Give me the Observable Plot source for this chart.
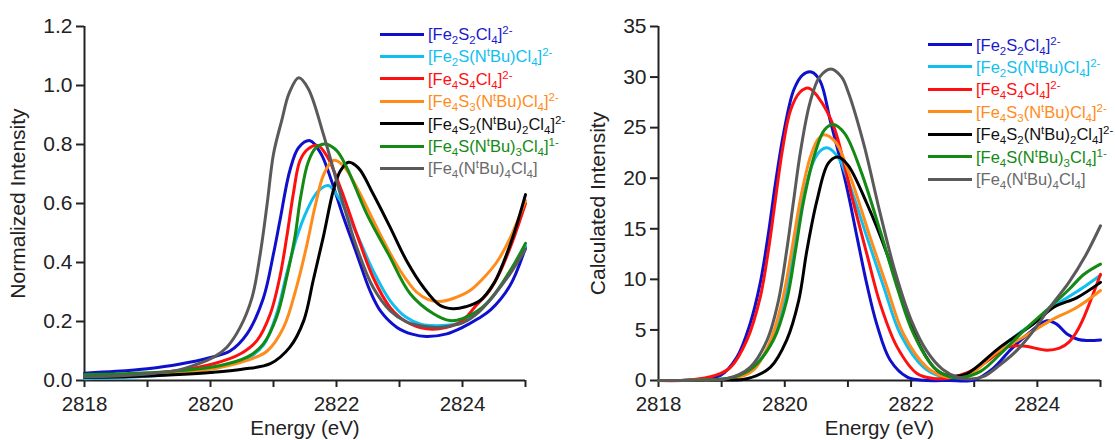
<!DOCTYPE html>
<html><head><meta charset="utf-8">
<script src="https://cdn.jsdelivr.net/npm/d3@7"></script>
<script src="https://cdn.jsdelivr.net/npm/@observablehq/plot@0.6"></script>
<style>
body{margin:0;background:#fff;font-family:"Liberation Sans",Arial,sans-serif;}
#wrap{position:relative;width:1115px;height:440px;display:flex;overflow:hidden;}
#wrap svg{display:block;flex:none;}
.row{position:absolute;height:0;white-space:nowrap;font-size:16.5px;line-height:1;}
.row .ln{position:absolute;left:0;top:-1.5px;height:3px;}
.row .tx{position:absolute;top:-8px;}
.row sub,.row sup{font-size:11.5px;line-height:0;}
</style></head>
<body><div id="wrap"></div>
<script>
// ---------- data ----------
const energyTicks = [2818, 2819, 2820, 2821, 2822, 2823, 2824, 2825];
const energyLabels = [2818, 2820, 2822, 2824];
const normTicks = [0, 0.2, 0.4, 0.6, 0.8, 1.0, 1.2];
const calcTicks = [0, 5, 10, 15, 20, 25, 30, 35];

const seriesNames = [
  "[Fe<sub>2</sub>S<sub>2</sub>Cl<sub>4</sub>]<sup>2-</sup>",
  "[Fe<sub>2</sub>S(N<sup>t</sup>Bu)Cl<sub>4</sub>]<sup>2-</sup>",
  "[Fe<sub>4</sub>S<sub>4</sub>Cl<sub>4</sub>]<sup>2-</sup>",
  "[Fe<sub>4</sub>S<sub>3</sub>(N<sup>t</sup>Bu)Cl<sub>4</sub>]<sup>2-</sup>",
  "[Fe<sub>4</sub>S<sub>2</sub>(N<sup>t</sup>Bu)<sub>2</sub>Cl<sub>4</sub>]<sup>2-</sup>",
  "[Fe<sub>4</sub>S(N<sup>t</sup>Bu)<sub>3</sub>Cl<sub>4</sub>]<sup>1-</sup>",
  "[Fe<sub>4</sub>(N<sup>t</sup>Bu)<sub>4</sub>Cl<sub>4</sub>]"
];
const seriesColors = ["#1010cc", "#10bff0", "#ff1010", "#ff8c1a", "#000000", "#138a13", "#5a5a5a"];
const textColors   = ["#1a1acc", "#10bff0", "#ff1010", "#ff8c1a", "#111111", "#138a13", "#6a6a6a"];

// Normalized (experimental) intensity: [energy eV, intensity]
const normFe2S2 = [[2818,0.025],[2818.5,0.031],[2819,0.04],[2819.5,0.055],[2820,0.078],[2820.31,0.10],[2820.58,0.158],[2820.84,0.28],[2821.0,0.43],[2821.1,0.54],[2821.26,0.712],[2821.4,0.79],[2821.58,0.813],[2821.75,0.77],[2821.9,0.69],[2822.11,0.554],[2822.32,0.43],[2822.53,0.305],[2822.7,0.235],[2822.96,0.18],[2823.2,0.157],[2823.43,0.149],[2823.75,0.158],[2824.0,0.18],[2824.25,0.21],[2824.45,0.24],[2824.75,0.32],[2825,0.45]];
const normFe2SN = [[2818,0.006],[2818.5,0.009],[2819,0.014],[2819.5,0.024],[2820.16,0.046],[2820.58,0.074],[2820.84,0.12],[2821.05,0.226],[2821.21,0.362],[2821.37,0.486],[2821.53,0.576],[2821.7,0.64],[2821.87,0.661],[2822.06,0.61],[2822.32,0.497],[2822.58,0.373],[2822.85,0.271],[2823.1,0.215],[2823.35,0.19],[2823.59,0.186],[2823.85,0.19],[2824.0,0.2],[2824.25,0.235],[2824.5,0.29],[2824.75,0.365],[2825,0.455]];
const normFe4S4 = [[2818,0.015],[2818.5,0.019],[2819,0.024],[2819.5,0.034],[2820.05,0.057],[2820.47,0.09],[2820.74,0.136],[2820.95,0.226],[2821.1,0.35],[2821.21,0.486],[2821.32,0.64],[2821.42,0.745],[2821.55,0.785],[2821.7,0.797],[2821.85,0.76],[2822.06,0.655],[2822.32,0.497],[2822.58,0.35],[2822.85,0.248],[2823.1,0.2],[2823.43,0.175],[2823.75,0.18],[2824.0,0.203],[2824.2,0.25],[2824.43,0.305],[2824.6,0.37],[2824.8,0.475],[2825,0.60]];
const normFe4S3N = [[2818,0.012],[2818.5,0.015],[2819,0.019],[2819.5,0.027],[2820.05,0.04],[2820.58,0.068],[2820.9,0.1],[2821.16,0.18],[2821.37,0.32],[2821.53,0.46],[2821.66,0.59],[2821.8,0.70],[2821.95,0.746],[2822.1,0.73],[2822.32,0.655],[2822.69,0.497],[2823.01,0.373],[2823.27,0.3],[2823.45,0.275],[2823.64,0.268],[2823.85,0.278],[2824.12,0.305],[2824.3,0.34],[2824.54,0.4],[2824.75,0.48],[2825,0.61]];
const normFe4S2N2 = [[2818,0.01],[2818.5,0.012],[2819,0.015],[2819.5,0.02],[2820,0.027],[2820.5,0.038],[2820.95,0.057],[2821.26,0.113],[2821.48,0.203],[2821.63,0.339],[2821.79,0.486],[2821.95,0.644],[2822.06,0.71],[2822.19,0.74],[2822.35,0.72],[2822.58,0.633],[2822.85,0.52],[2823.11,0.407],[2823.38,0.316],[2823.64,0.255],[2823.85,0.243],[2824.05,0.25],[2824.28,0.271],[2824.5,0.33],[2824.64,0.395],[2824.82,0.5],[2825,0.63]];
const normFe4SN3 = [[2818,0.02],[2818.5,0.022],[2819,0.026],[2819.5,0.033],[2820.16,0.051],[2820.58,0.079],[2820.84,0.124],[2821.05,0.215],[2821.21,0.35],[2821.34,0.486],[2821.43,0.62],[2821.55,0.74],[2821.68,0.79],[2821.82,0.802],[2822.0,0.78],[2822.16,0.723],[2822.48,0.565],[2822.82,0.43],[2823.17,0.294],[2823.54,0.226],[2823.8,0.203],[2824.0,0.21],[2824.38,0.26],[2824.75,0.37],[2825,0.465]];
const normFe4N4 = [[2818,0.012],[2818.5,0.015],[2819,0.022],[2819.5,0.036],[2819.73,0.051],[2820.05,0.079],[2820.26,0.113],[2820.47,0.18],[2820.66,0.282],[2820.79,0.43],[2820.9,0.6],[2821.0,0.768],[2821.13,0.881],[2821.25,0.975],[2821.4,1.026],[2821.55,0.99],[2821.79,0.836],[2822.06,0.633],[2822.32,0.452],[2822.58,0.316],[2822.85,0.237],[2823.1,0.2],[2823.35,0.185],[2823.59,0.18],[2823.75,0.183],[2824,0.195],[2824.25,0.23],[2824.5,0.29],[2824.75,0.36],[2825,0.445]];

// Calculated intensity: [energy eV, intensity]
const calcFe2S2 = [[2818,0],[2818.5,0.05],[2818.98,0.5],[2819.24,2.3],[2819.45,5.6],[2819.61,9.6],[2819.74,14.5],[2819.85,19.4],[2819.98,24.4],[2820.14,28.7],[2820.28,30.2],[2820.42,30.5],[2820.56,29.6],[2820.72,25.7],[2820.86,22.3],[2821.0,18.6],[2821.15,14.0],[2821.3,9.5],[2821.46,5.5],[2821.67,2.0],[2821.94,0.33],[2822.2,0.02],[2822.6,0],[2823.0,0.05],[2823.3,1.2],[2823.57,3.0],[2823.85,4.6],[2824.15,5.9],[2824.3,5.6],[2824.47,4.6],[2824.65,4.05],[2824.8,3.95],[2825,4.0]];
const calcFe2SN = [[2818,0],[2818.5,0.02],[2819.2,0.3],[2819.5,1.3],[2819.8,4.0],[2820.0,7.9],[2820.14,12.85],[2820.27,17.5],[2820.45,21.6],[2820.58,22.8],[2820.68,23.0],[2820.85,22.0],[2821.04,19.1],[2821.3,14.2],[2821.57,9.2],[2821.83,4.6],[2822.2,1.3],[2822.45,0.45],[2822.65,0.3],[2822.9,0.7],[2823.2,2.0],[2823.57,4.0],[2824.0,6.0],[2824.25,7.3],[2824.5,8.3],[2824.75,9.3],[2825,10.4]];
const calcFe4S4 = [[2818,0],[2818.5,0.05],[2818.9,0.5],[2819.14,1.3],[2819.4,4.0],[2819.61,8.2],[2819.74,12.85],[2819.85,17.8],[2819.96,22.7],[2820.09,26.7],[2820.24,28.5],[2820.38,28.9],[2820.53,28.0],[2820.77,25.2],[2821.09,17.5],[2821.3,12.5],[2821.51,7.6],[2821.78,3.3],[2822.1,0.66],[2822.35,0.2],[2822.6,0.25],[2822.9,0.8],[2823.15,1.65],[2823.52,3.3],[2823.78,3.4],[2824.15,3.0],[2824.35,3.2],[2824.5,3.8],[2824.62,4.8],[2824.74,6.3],[2825,10.5]];
const calcFe4S3N = [[2818,0],[2818.5,0.02],[2819.2,0.25],[2819.5,1.0],[2819.75,3.6],[2819.95,7.6],[2820.1,12.5],[2820.25,18.0],[2820.4,22.0],[2820.52,23.8],[2820.62,24.3],[2820.8,23.6],[2821.04,20.1],[2821.35,14.2],[2821.62,9.2],[2821.88,4.6],[2822.25,1.3],[2822.5,0.45],[2822.7,0.3],[2823.0,0.9],[2823.31,2.6],[2823.78,4.3],[2824.2,5.9],[2824.63,7.25],[2825,8.9]];
const calcFe4S2N2 = [[2818,0],[2818.5,0],[2819.0,0.05],[2819.4,0.17],[2819.77,1.3],[2820.03,4.0],[2820.22,7.9],[2820.35,12.85],[2820.51,17.8],[2820.69,21.5],[2820.84,22.1],[2821.0,21.3],[2821.3,17.5],[2821.62,12.5],[2821.88,7.6],[2822.15,3.3],[2822.41,1.0],[2822.62,0.45],[2822.88,0.66],[2823.41,3.3],[2823.94,5.6],[2824.26,7.25],[2824.63,8.2],[2825,9.7]];
const calcFe4SN3 = [[2818,0],[2818.5,0.03],[2819.19,0.33],[2819.5,1.3],[2819.82,4.0],[2820.03,7.9],[2820.17,12.85],[2820.3,17.8],[2820.48,22.5],[2820.63,24.8],[2820.77,25.3],[2820.95,24.4],[2821.2,20.8],[2821.51,14.8],[2821.78,9.2],[2822.04,4.6],[2822.36,1.3],[2822.6,0.4],[2822.8,0.3],[2823.1,0.9],[2823.41,2.6],[2823.8,5.0],[2824.2,7.25],[2824.5,9.0],[2824.74,10.5],[2825,11.5]];
const calcFe4N4 = [[2818,0],[2818.5,0.02],[2819.08,0.17],[2819.45,1.3],[2819.72,4.0],[2819.9,7.9],[2820.03,12.85],[2820.14,17.8],[2820.25,22.7],[2820.4,27.5],[2820.55,30.0],[2820.73,30.8],[2820.9,30.0],[2821.0,28.6],[2821.25,23.4],[2821.5,16.8],[2821.75,10.7],[2822.0,6.0],[2822.25,2.9],[2822.5,1.1],[2822.75,0.3],[2822.95,0.15],[2823.15,0.4],[2823.4,1.5],[2823.68,3.0],[2823.95,5.0],[2824.2,7.25],[2824.5,9.7],[2824.75,12.2],[2825,15.3]];

const normSeries = [normFe2S2, normFe2SN, normFe4S4, normFe4S3N, normFe4S2N2, normFe4SN3, normFe4N4];
const calcSeries = [calcFe2S2, calcFe2SN, calcFe4S4, calcFe4S3N, calcFe4S2N2, calcFe4SN3, calcFe4N4];

// ---------- drawing ----------
const FONT = '"Liberation Sans", Arial, Helvetica, sans-serif';
const axisColor = "#222";

function panel({series, yDomain, yTicks, yFormat, yLabel, width, marginLeft, marginRight, labelOffsetY}) {
  return Plot.plot({
    width, height: 440,
    marginLeft, marginRight, marginTop: 26, marginBottom: 60,
    style: {fontFamily: FONT, fontSize: "21px", color: axisColor, background: "transparent", overflow: "visible"},
    x: {domain: [2818, 2825]},
    y: {domain: yDomain},
    marks: [
      Plot.ruleX([2818], {stroke: axisColor, strokeWidth: 2}),
      Plot.ruleY([yDomain[0]], {stroke: axisColor, strokeWidth: 2}),
      Plot.axisX({ticks: energyTicks, tickFormat: d => energyLabels.includes(d) ? String(d) : "",
        tickSize: 7, tickPadding: 9, strokeWidth: 2, stroke: axisColor, fill: axisColor, fontSize: 20.5,
        label: "Energy (eV)", labelAnchor: "center", labelOffset: 54, labelArrow: "none"}),
      Plot.axisY({ticks: yTicks, tickFormat: yFormat, tickSize: 8, tickPadding: 4,
        strokeWidth: 2, stroke: axisColor, fill: axisColor, fontSize: 21,
        label: yLabel, labelAnchor: "center", labelOffset: labelOffsetY, labelArrow: "none"}),
      ...series.map((s, i) => Plot.line(s, {x: d => d[0], y: d => d[1], stroke: seriesColors[i],
        strokeWidth: 3, curve: "catmull-rom", strokeLinejoin: "round"}))
    ]
  });
}

const wrap = document.getElementById("wrap");
wrap.appendChild(panel({series: normSeries, yDomain: [0, 1.2], yTicks: normTicks, yFormat: d3.format(".1f"),
  yLabel: "Normalized Intensity", width: 557, marginLeft: 84, marginRight: 32, labelOffsetY: 74}));
wrap.appendChild(panel({series: calcSeries, yDomain: [0, 35], yTicks: calcTicks, yFormat: d3.format("d"),
  yLabel: "Calculated Intensity", width: 558, marginLeft: 101, marginRight: 15, labelOffsetY: 68}));

function legend(x, y0, step) {
  seriesNames.forEach((name, i) => {
    const row = document.createElement("div");
    row.className = "row";
    row.style.left = x + "px";
    row.style.top = (y0 + i * step) + "px";
    row.innerHTML = `<div class="ln" style="width:44px;background:${seriesColors[i]}"></div>` +
      `<div class="tx" style="left:48px;color:${textColors[i]}">${name}</div>`;
    wrap.appendChild(row);
  });
}
legend(380, 34, 22.4);
legend(928, 44.5, 22.45);
</script>
</body></html>
